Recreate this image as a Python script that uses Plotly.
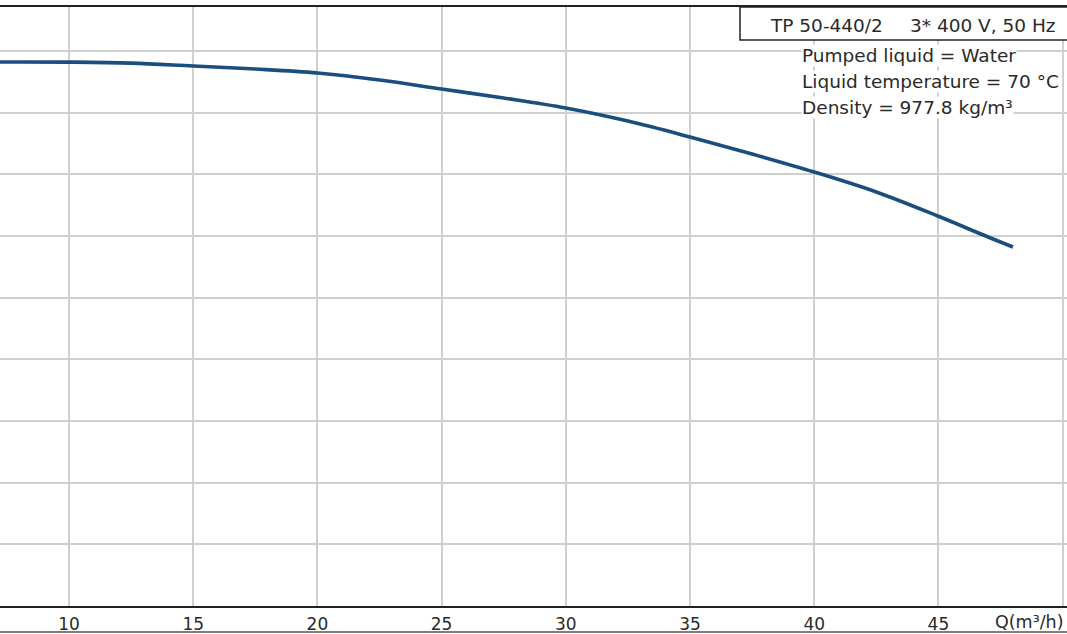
import plotly.graph_objects as go

# Curve data (Q in m³/h, H in m)
flow_q = [7.0, 10, 12.5, 15, 17.5, 20, 22.5, 25, 27.5, 30, 32.5, 35, 37.5, 40, 42.5, 45, 47, 48]
head_h = [44.11, 44.10, 44.02, 43.78, 43.54, 43.22, 42.65, 41.92, 41.19, 40.38, 39.32, 38.03,
          36.65, 35.19, 33.57, 31.6, 29.92, 29.11]

x_tickvals = [10, 15, 20, 25, 30, 35, 40, 45, 50]
x_ticktext = ["10", "15", "20", "25", "30", "35", "40", "45", ""]

title_left = "TP 50-440/2"
title_right = "3* 400 V, 50 Hz"
info_lines = ["Pumped liquid = Water", "Liquid temperature = 70 °C", "Density = 977.8 kg/m³"]
x_unit_label = "Q(m³/h)"

W, H = 1067, 634
TOP, BOTTOM = 7, 606
PH = BOTTOM - TOP
FONT = "DejaVu Sans, Liberation Sans, Arial, sans-serif"
TXT = "#2a2a2a"
FS = 18.5


def py(y_px):
    return (BOTTOM - y_px) / PH


def px(x_px):
    return x_px / W


fig = go.Figure()
fig.add_trace(go.Scatter(
    x=flow_q, y=head_h, mode="lines",
    line=dict(color="#1b4e7e", width=3.6, shape="spline"),
    showlegend=False, hoverinfo="skip",
))

fig.update_layout(
    width=W, height=H,
    margin=dict(l=0, r=0, t=TOP, b=H - BOTTOM),
    paper_bgcolor="white", plot_bgcolor="white",
    font=dict(family=FONT, size=FS, color=TXT),
    xaxis=dict(
        range=[7.222, 50.177],
        tickvals=x_tickvals, ticktext=x_ticktext,
        showgrid=True, gridcolor="#cfcfcf", gridwidth=1.5,
        showline=True, mirror=True, linecolor="#222222", linewidth=2,
        zeroline=False, ticks="", ticklabelstandoff=2,
        tickfont=dict(family=FONT, size=17, color=TXT),
    ),
    yaxis=dict(
        range=[0, 48.57], dtick=5, tick0=0,
        showgrid=True, gridcolor="#cfcfcf", gridwidth=1.5,
        showticklabels=False, showline=False, zeroline=False, ticks="",
    ),
)

# title box
fig.add_shape(type="rect", xref="paper", yref="paper",
              x0=px(740), x1=px(1075), y0=py(40), y1=py(TOP),
              line=dict(color="#222222", width=1.5), fillcolor="white", layer="above")
# bottom border line below tick labels
fig.add_shape(type="line", xref="paper", yref="paper",
              x0=0, x1=1, y0=py(632), y1=py(632),
              line=dict(color="#555555", width=1.5))

fig.add_annotation(x=px(768), y=py(25.5), xref="paper", yref="paper", text=title_left,
                   showarrow=False, xanchor="left", yanchor="middle",
                   font=dict(family=FONT, size=FS, color=TXT))
fig.add_annotation(x=px(1058), y=py(25.5), xref="paper", yref="paper", text=title_right,
                   showarrow=False, xanchor="right", yanchor="middle",
                   font=dict(family=FONT, size=FS, color=TXT))

for line_text, yc in zip(info_lines, [55, 81.5, 107.5]):
    fig.add_annotation(x=px(801), y=py(yc), xref="paper", yref="paper", text=line_text,
                       showarrow=False, xanchor="left", yanchor="middle",
                       bgcolor="white", borderpad=0,
                       font=dict(family=FONT, size=FS, color=TXT))

fig.add_annotation(x=px(993), y=py(622), xref="paper", yref="paper", text=x_unit_label,
                   showarrow=False, xanchor="left", yanchor="middle",
                   font=dict(family=FONT, size=17.5, color=TXT))

fig.write_html("out.html", config={"displayModeBar": False},
               post_script="document.body.style.margin='0';document.body.style.overflow='hidden';")
